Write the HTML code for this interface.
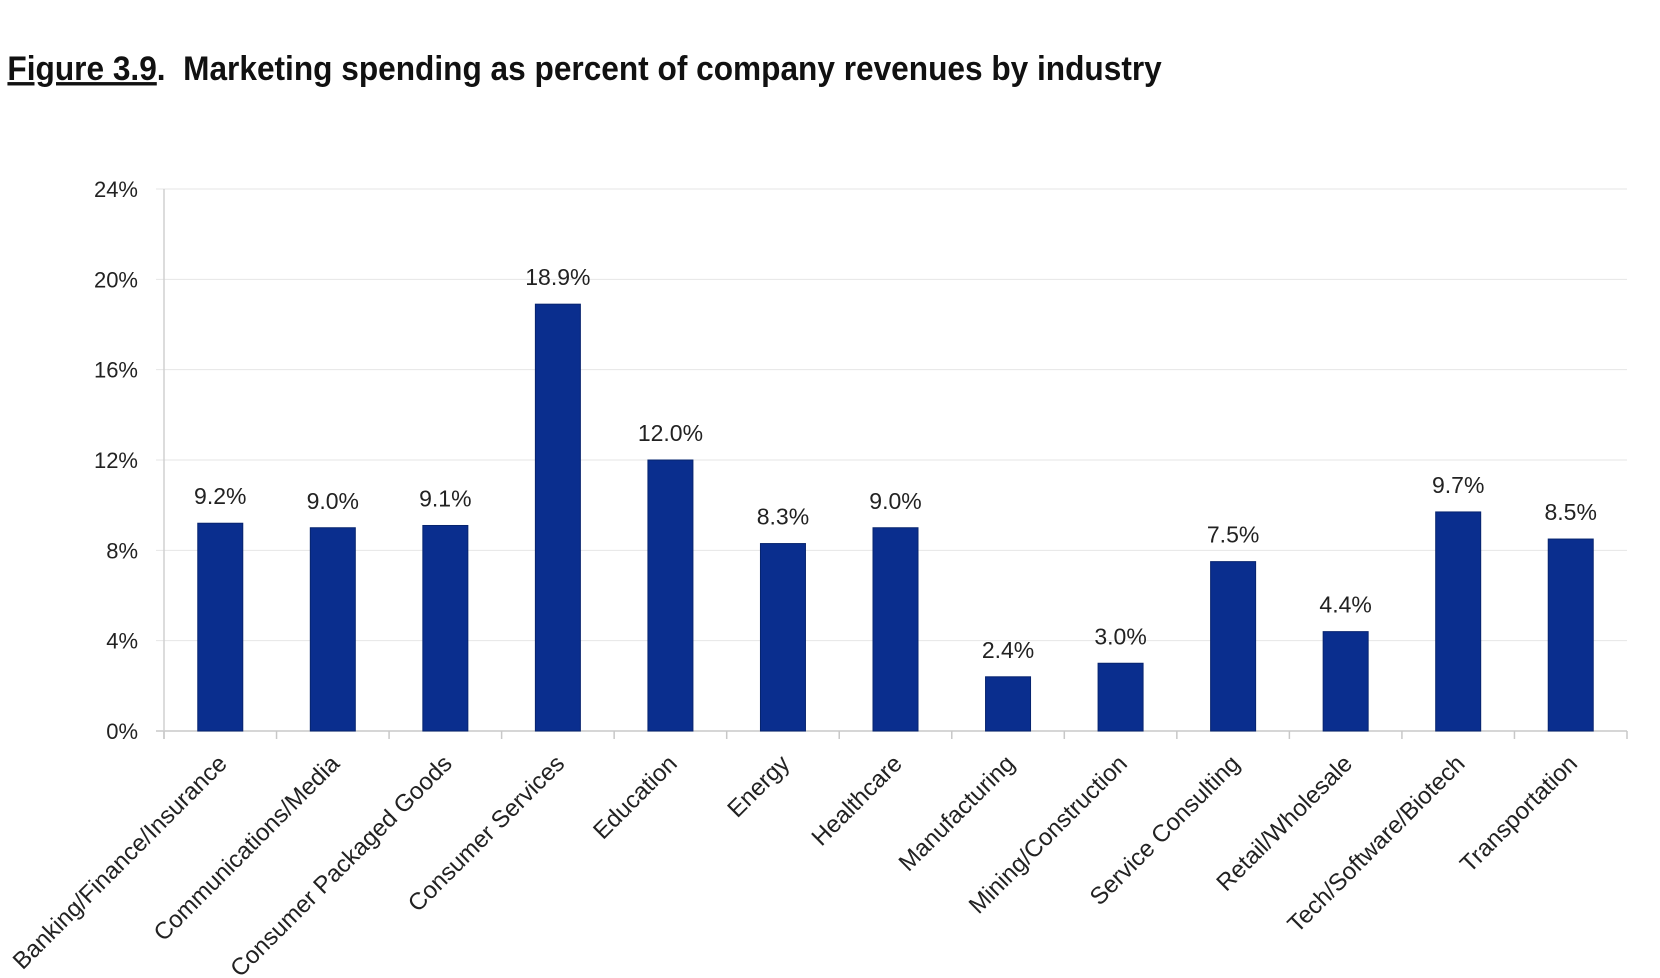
<!DOCTYPE html>
<html><head><meta charset="utf-8"><style>
body{margin:0;background:#fff;width:1660px;height:978px;overflow:hidden}
svg{display:block}
</style></head><body>
<svg id="chart" width="1660" height="978" font-family="Liberation Sans, sans-serif">
<text x="8" y="80" font-size="34" font-weight="bold" fill="#111" transform="scale(0.93,1)"><tspan text-decoration="underline">Figure 3.9</tspan>.&#160;&#160;Marketing spending as percent of company revenues by industry</text>
<g id="grid"></g><g id="bars"></g><g id="labels"></g>
</svg>
<script>
const categories=["Banking/Finance/Insurance","Communications/Media","Consumer Packaged Goods","Consumer Services","Education","Energy","Healthcare","Manufacturing","Mining/Construction","Service Consulting","Retail/Wholesale","Tech/Software/Biotech","Transportation"];
const values=[9.2,9.0,9.1,18.9,12.0,8.3,9.0,2.4,3.0,7.5,4.4,9.7,8.5];
const yTicks=[0,4,8,12,16,20,24];
const NS="http://www.w3.org/2000/svg";
const X0=164,X1=1627,Y0=731,Y1=189,YMAX=24;
const bw=(X1-X0)/categories.length;
const y=v=>Y0-(v/YMAX)*(Y0-Y1);
const xc=i=>X0+bw*(i+0.5);
function mk(tag,attrs,parent){const e=document.createElementNS(NS,tag);for(const k in attrs)e.setAttribute(k,attrs[k]);parent.appendChild(e);return e;}
const grid=document.getElementById('grid'),bars=document.getElementById('bars'),labels=document.getElementById('labels');
yTicks.forEach(t=>{
  const l=mk('line',{x1:X0-8,x2:X1,y1:y(t),y2:y(t),stroke:t===0?'#c8c8c8':'#e6e6e6','stroke-width':t===0?1.5:1},grid);
  
  
  const tx=mk('text',{x:X0-26,y:y(t)+8,'text-anchor':'end','font-size':22,fill:'#222'},grid);
  tx.textContent=t+'%';
  
  
});
const ax=mk('line',{x1:X0,x2:X0,y1:Y1,y2:Y0+8,stroke:'#d0d0d0','stroke-width':1.5},grid);


for(let i=0;i<=categories.length;i++){
  const tk=mk('line',{x1:X0+bw*i,x2:X0+bw*i,y1:Y0,y2:Y0+8,stroke:'#c8c8c8','stroke-width':1.5},grid);
  
  
}
values.forEach((v,i)=>{
  const r=mk('rect',{x:xc(i)-22.5,y:y(v),width:45,height:Y0-y(v),fill:'#0a2e8e',stroke:'#07246f','stroke-width':1},bars);
  
  
  const t=mk('text',{x:xc(i),y:y(v)-19,'text-anchor':'middle','font-size':23,fill:'#222'},labels);
  t.textContent=v.toFixed(1)+'%';
  
  
  const c=mk('text',{x:0,y:0,'text-anchor':'end','font-size':24,fill:'#222',transform:`translate(${xc(i)+8},${Y0+34}) rotate(-45)`},labels);
  c.textContent=categories[i];
  
  
});
</script>
</body></html>
